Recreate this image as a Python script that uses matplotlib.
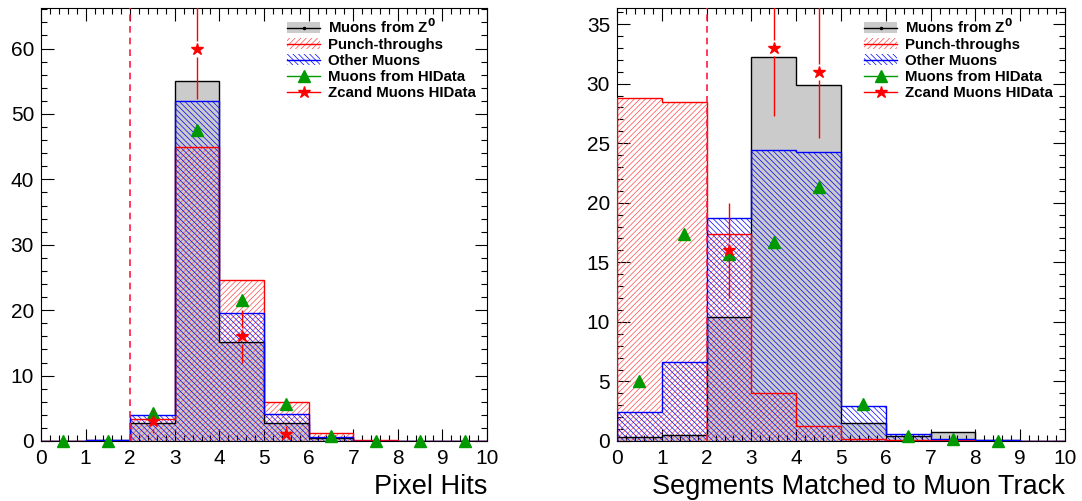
import numpy as np
import matplotlib
matplotlib.use("Agg")
import matplotlib.pyplot as plt
from matplotlib.ticker import MultipleLocator
from matplotlib.patches import Patch
from matplotlib.lines import Line2D

# ── Colors ────────────────────────────────────────────────────────────────────
C = {
    "gray":  "#cbcbcb",
    "red":   "#ff0000",
    "red_h": "#ff4a4a",
    "blue":  "#0000ff",
    "green": "#009a00",
    "dash":  "#ff1a40",
}

plt.rcParams["font.family"] = ["Liberation Sans", "DejaVu Sans"]
plt.rcParams["hatch.linewidth"] = 0.5

HATCH_R = "//////"
HATCH_B = "\\\\\\\\\\\\"

# ── Data ──────────────────────────────────────────────────────────────────────
bin_edges = np.arange(0, 11)

# Pixel Hits
z0_pix     = [0.0, 0.1, 2.8, 55.1, 15.1, 2.7, 0.4, 0.0, 0.0, 0.0]
punch_pix  = [0.0, 0.0, 3.3, 44.9, 24.6, 6.0, 1.2, 0.1, 0.0, 0.0]
other_pix  = [0.0, 0.2, 3.9, 52.0, 19.5, 4.1, 0.6, 0.0, 0.0, 0.0]
hidata_pix = [0.0, 0.0, 4.3, 47.5, 21.5, 5.6, 0.7, 0.0, 0.0, 0.0]
zcand_pix  = [0, 0, 3, 60, 16, 1, 0, 0, 0, 0]

# Segments matched to muon track
z0_seg     = [0.35, 0.5, 10.4, 32.2, 29.9, 1.55, 0.4, 0.75, 0.1, 0.0]
punch_seg  = [28.8, 28.45, 17.4, 4.05, 1.25, 0.2, 0.05, 0.05, 0.0, 0.0]
other_seg  = [2.45, 6.6, 18.75, 24.45, 24.25, 2.95, 0.55, 0.2, 0.1, 0.0]
hidata_seg = [5.0, 17.4, 15.7, 16.7, 21.35, 3.1, 0.4, 0.15, 0.0, np.nan]
zcand_seg  = [0, 0, 16, 33, 31, 0, 0, 0, 0, 0]

legend_labels = ["Muons from Z$^{\\mathbf{0}}$", "Punch-throughs", "Other Muons",
                 "Muons from HIData", "Zcand Muons HIData"]
cut_value = 2


def draw_panel(ax, z0, punch, other, hidata, zcand, ymax, ymajor, yminor, xlabel):
    centers = bin_edges[:-1] + 0.5

    ax.stairs(z0, bin_edges, fill=True, facecolor=C["gray"], edgecolor="none", zorder=1)
    ax.stairs(punch, bin_edges, fill=True, facecolor="none", edgecolor=C["red_h"],
              hatch=HATCH_R, lw=0, zorder=2)
    ax.stairs(other, bin_edges, fill=True, facecolor="none", edgecolor=C["blue"],
              hatch=HATCH_B, lw=0, zorder=3)
    ax.stairs(z0, bin_edges, color="black", lw=1, zorder=4)
    ax.stairs(punch, bin_edges, color=C["red"], lw=1, zorder=4)
    ax.stairs(other, bin_edges, color=C["blue"], lw=1, zorder=4)

    ax.plot(centers, hidata, "^", color=C["green"], ms=9, zorder=6, clip_on=False)

    # stars with sqrt(N) errors, bar broken around the marker
    zc = np.asarray(zcand, dtype=float)
    m = zc > 0
    xs, ys, err = centers[m], zc[m], np.sqrt(zc[m])
    ax_h_px = ax.get_position().height * ax.figure.get_figheight() * ax.figure.dpi
    gap = 8 / (ax_h_px / ymax)
    ax.vlines(xs, ys - err, ys - gap, color=C["red"], lw=1, zorder=7)
    ax.vlines(xs, ys + gap, ys + err, color=C["red"], lw=1, zorder=7)
    ax.plot(xs, ys, "*", color=C["red"], ms=9, zorder=7)

    ax.axvline(cut_value, color=C["dash"], ls=(0, (4, 3)), lw=1.2, zorder=8)

    ax.set_xlim(0, 10)
    ax.set_ylim(0, ymax)
    ax.xaxis.set_major_locator(MultipleLocator(1))
    ax.xaxis.set_minor_locator(MultipleLocator(0.2))
    ax.yaxis.set_major_locator(MultipleLocator(ymajor))
    ax.yaxis.set_minor_locator(MultipleLocator(yminor))
    ax.tick_params(which="both", direction="in", top=True, right=True, labelsize=15)
    ax.tick_params(which="major", length=9, width=0.8)
    ax.tick_params(which="minor", length=4.5, width=0.8)
    ax.tick_params(axis="x", pad=6)
    ax.tick_params(axis="y", pad=5)
    ax.set_xlabel(xlabel, loc="right", fontsize=19.5, labelpad=4)

    handles = [
        (Patch(facecolor=C["gray"], edgecolor="none"),
         Line2D([], [], color="black", lw=1, marker=".", ms=3)),
        (Patch(facecolor="none", edgecolor=C["red_h"], hatch=HATCH_R, lw=0),
         Line2D([], [], color=C["red"], lw=1)),
        (Patch(facecolor="none", edgecolor=C["blue"], hatch=HATCH_B, lw=0),
         Line2D([], [], color=C["blue"], lw=1)),
        Line2D([], [], color=C["green"], lw=1, marker="^", ms=9),
        Line2D([], [], color=C["red"], lw=1, marker="*", ms=9),
    ]
    ax.legend(handles, legend_labels, loc="upper left", bbox_to_anchor=(0.545, 0.986),
              frameon=False, prop={"weight": "bold", "size": 10.8},
              handlelength=2.2, handletextpad=0.5, labelspacing=0.14,
              borderpad=0.2, borderaxespad=0)


fig = plt.figure(figsize=(10.82, 5.01), dpi=100)
ax1 = fig.add_axes([41 / 1082, 60 / 501, 446 / 1082, 433 / 501])
ax2 = fig.add_axes([617 / 1082, 60 / 501, 448 / 1082, 433 / 501])

draw_panel(ax1, z0_pix, punch_pix, other_pix, hidata_pix, zcand_pix,
           66.2, 10, 2, "Pixel Hits")
draw_panel(ax2, z0_seg, punch_seg, other_seg, hidata_seg, zcand_seg,
           36.35, 5, 1, "Segments Matched to Muon Track")

fig.savefig("out.png", dpi=100)
